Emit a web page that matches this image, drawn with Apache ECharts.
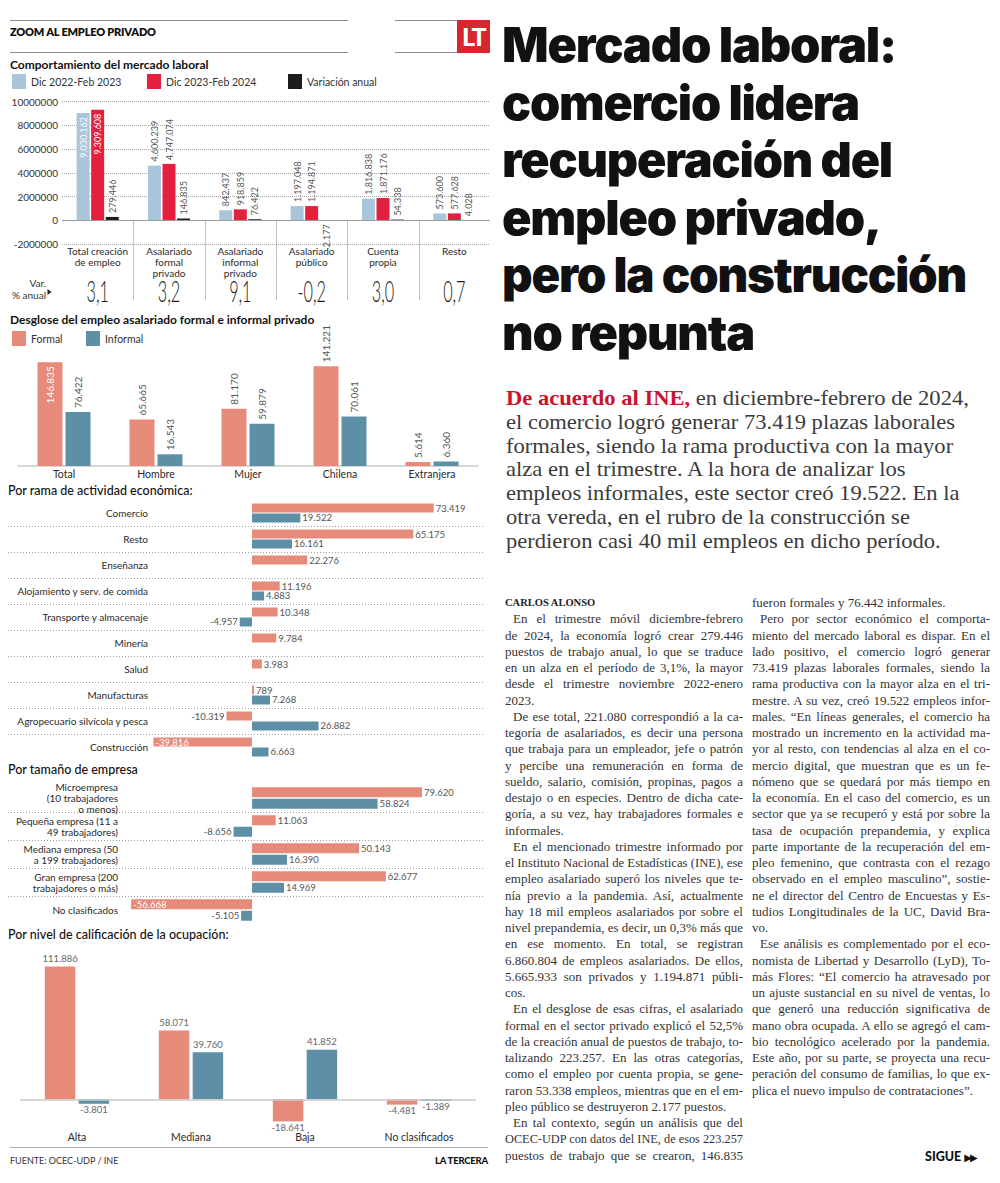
<!DOCTYPE html>
<html lang="es"><head><meta charset="utf-8">
<title>Mercado laboral: comercio lidera recuperación del empleo privado</title>
<script src="https://cdn.jsdelivr.net/npm/echarts/dist/echarts.min.js"></script>
<style>
html,body{margin:0;padding:0;background:#fff;}
body{width:1000px;height:1183px;position:relative;overflow:hidden;font-family:Lato,'Noto Sans',sans-serif;}
#left{position:absolute;left:0;top:0;width:500px;height:1183px;}
.hl{position:absolute;height:1px;background:#8c8c8c;}
#lt{position:absolute;left:457px;top:20px;width:33px;height:33px;background:#d7262f;color:#fff;font:900 25px/33px Lato,sans-serif;text-align:center;letter-spacing:-1.5px;}
#zoomt{position:absolute;left:10px;top:25px;font:800 11px/14px Lato,sans-serif;color:#111;letter-spacing:-0.2px;}
#fuente{position:absolute;left:10px;top:1155px;font:400 9px/12px Lato,sans-serif;color:#333;}
#latercera{position:absolute;left:430px;width:58px;text-align:right;top:1155px;font:900 9.5px/12px Lato,sans-serif;color:#111;letter-spacing:-0.2px;}
#headline{position:absolute;left:502px;top:16px;font-family:Inter,Lato,sans-serif;font-weight:900;font-size:48px;line-height:57.5px;color:#111;white-space:nowrap;letter-spacing:-1.2px;}
#headline span{display:inline-block;transform-origin:0 50%;}
#lead{position:absolute;left:506px;top:386px;font-family:'Liberation Serif',serif;font-size:22px;line-height:23.8px;color:#3b3b3b;white-space:nowrap;transform-origin:0 0;}
#lead b{color:#c8142f;}
.col{position:absolute;top:595px;width:238px;font-family:'Liberation Serif',serif;font-size:13px;line-height:16.25px;color:#333;}
.col .ln{white-space:nowrap;height:16.25px;}
.col .author{font-weight:bold;font-size:10.5px;color:#222;}
#sigue{position:absolute;left:925px;top:1150px;font:900 12.5px/14px Lato,sans-serif;color:#111;white-space:nowrap;}
#sigue span{font-family:'DejaVu Sans',sans-serif;font-size:10px;letter-spacing:-2px;}
</style>
</head>
<body>
<div id="left"></div>

<div class="hl" style="left:10px;top:20px;width:338px"></div>
<div class="hl" style="left:395px;top:20px;width:62px"></div>
<div class="hl" style="left:10px;top:52px;width:338px"></div>
<div class="hl" style="left:395px;top:52px;width:62px"></div>
<div id="lt">LT</div>
<div id="zoomt">ZOOM AL EMPLEO PRIVADO</div>
<div class="hl" style="left:10px;top:1147px;width:478px;background:#aaa"></div>
<div id="fuente">FUENTE: OCEC-UDP / INE</div>
<div id="latercera">LA TERCERA</div>

<div id="headline">
<div><span>Mercado laboral:</span></div>
<div><span>comercio lidera</span></div>
<div><span>recuperación del</span></div>
<div><span>empleo privado,</span></div>
<div><span>pero la construcción</span></div>
<div><span>no repunta</span></div>
</div>

<div id="lead">
<div><b>De acuerdo al INE,</b> en diciembre-febrero de 2024,</div>
<div><span id="leadref">el comercio logró generar 73.419 plazas laborales</span></div>
<div>formales, siendo la rama productiva con la mayor</div>
<div>alza en el trimestre. A la hora de analizar los</div>
<div>empleos informales, este sector creó 19.522. En la</div>
<div>otra vereda, en el rubro de la construcción se</div>
<div>perdieron casi 40 mil empleos en dicho período.</div>
</div>

<div class="col" id="col1" style="left:505px"></div>
<div class="col" id="col2" style="left:752px"></div>
<div id="sigue">SIGUE <span>▶▶</span></div>

<script>
// ---------------- DATA ----------------
const categoriesEmpleo = ['Total creación\nde empleo', 'Asalariado\nformal\nprivado', 'Asalariado\ninformal\nprivado', 'Asalariado\npúblico', 'Cuenta\npropia', 'Resto'];
const empleoDic2022Feb2023 = [9030162, 4600239, 842437, 1197048, 1816838, 573600];
const empleoDic2023Feb2024 = [9309608, 4747074, 918859, 1194871, 1871176, 577628];
const variacionAnual = [279446, 146835, 76422, -2177, 54338, 4028];
const variacionPctAnual = ['3,1', '3,2', '9,1', '-0,2', '3,0', '0,7'];

const categoriesDesglose = ['Total', 'Hombre', 'Mujer', 'Chilena', 'Extranjera'];
const desgloseFormal = [146835, 65665, 81170, 141221, 5614];
const desgloseInformal = [76422, 16543, 59879, 70061, 6360];

const categoriesRama = ['Comercio', 'Resto', 'Enseñanza', 'Alojamiento y serv. de comida', 'Transporte y almacenaje', 'Minería', 'Salud', 'Manufacturas', 'Agropecuario silvícola y pesca', 'Construcción'];
const ramaFormal = [73419, 65175, 22276, 11196, 10348, 9784, 3983, 789, -10319, -39816];
const ramaInformal = [19522, 16161, null, 4883, -4957, null, null, 7268, 26882, 6663];

const categoriesTamano = ['Microempresa\n(10 trabajadores\no menos)', 'Pequeña empresa (11 a\n49 trabajadores)', 'Mediana empresa (50\na 199 trabajadores)', 'Gran empresa (200\ntrabajadores o más)', 'No clasificados'];
const tamanoFormal = [79620, 11063, 50143, 62677, -56668];
const tamanoInformal = [58824, -8656, 16390, 14969, -5105];

const categoriesCalificacion = ['Alta', 'Mediana', 'Baja', 'No clasificados'];
const calificacionFormal = [111886, 58071, -18641, -4481];
const calificacionInformal = [-3801, 39760, 41852, -1389];

// ---------------- HELPERS ----------------
const fmt = v => (v < 0 ? '-' : '') + String(Math.abs(v)).replace(/\B(?=(\d{3})+(?!\d))/g, '.');
const COL = {prev: '#a9c5d9', curr: '#e3203d', vari: '#1c1c1c', formal: '#e68a79', informal: '#5d8fa7'};

function vItems(arr, insideIdx) {
  return arr.map((v, i) => {
    if (v == null) return null;
    if (i === insideIdx) return {value: v, label: {position: 'insideTop', align: 'right', color: '#fff'}};
    return {value: v, label: v >= 0 ? {position: 'top', align: 'left'} : {position: 'bottom', align: 'right'}};
  });
}
function hItems(arr) {
  const vals = arr.filter(v => v != null);
  const mn = Math.min(...vals);
  const insideIdx = mn < -20000 ? arr.indexOf(mn) : -1;
  return arr.map((v, i) => {
    if (v == null) return null;
    if (i === insideIdx) return {value: v, label: {position: 'insideLeft', color: '#fff', distance: 2}};
    return {value: v, label: {position: v >= 0 ? 'right' : 'left'}};
  });
}
function cItems(arr) {
  return arr.map(v => ({value: v, label: {position: v >= 0 ? 'top' : 'bottom', distance: v >= 0 ? 3 : 1}}));
}
const zeroLine = (color, width) => ({silent: true, symbol: 'none', animation: false, label: {show: false},
  lineStyle: {type: 'solid', color: color, width: width}, emphasis: {disabled: true}, data: [{yAxis: 0}]});

const vLabel = {show: true, rotate: 90, verticalAlign: 'middle', fontSize: 9, color: '#555', distance: 4, formatter: p => fmt(p.value)};
const vLabel2 = Object.assign({}, vLabel, {fontSize: 10});
const hLabel = {show: true, fontSize: 9.5, color: '#555', distance: 2, formatter: p => fmt(p.value)};
const cLabel = {show: true, fontSize: 9.5, color: '#666', distance: 3, formatter: p => fmt(p.value)};

// geometry of the grids
const G = [
  {left: 62, top: 101.5, width: 428, height: 142.5},
  {left: 18, top: 360, width: 460, height: 106},
  {left: 153, top: 500, width: 297, height: 260},
  {left: 124, top: 784, width: 341.5, height: 140},
  {left: 20, top: 957, width: 456, height: 166}
];

// decorations: separators and var % row
const graphic = [];
const g0 = G[0], n0 = categoriesEmpleo.length, bw0 = g0.width / n0;
const zeroY0 = g0.top + g0.height * (10000000 / 12000000);
for (let i = 1; i < n0; i++) {
  const x = Math.round(g0.left + i * bw0) + 0.5;
  graphic.push({type: 'line', silent: true, shape: {x1: x, y1: zeroY0, x2: x, y2: 300}, style: {stroke: '#c2c2c2', lineWidth: 1}});
}
variacionPctAnual.forEach((t, i) => {
  graphic.push({type: 'text', silent: true, x: g0.left + (i + 0.5) * bw0, y: 291, scaleX: 0.56,
    style: {text: t, fontFamily: 'Lato', fontWeight: 300, fontSize: 29, fill: '#1a1a1a', align: 'center', verticalAlign: 'middle', textAlign: 'center', textVerticalAlign: 'middle'}});
});
graphic.push({type: 'text', silent: true, x: 46, y: 277,
  style: {text: 'Var.\n% anual', fontFamily: 'Lato', fontSize: 10, lineHeight: 12, fill: '#333', align: 'right', textAlign: 'right', verticalAlign: 'top', textVerticalAlign: 'top'}});
graphic.push({type: 'polygon', silent: true, shape: {points: [[47.5, 289], [47.5, 295], [51.5, 292]]}, style: {fill: '#222'}});
function rowSeparators(g, n) {
  const h = g.height / n;
  for (let i = 1; i < n; i++) {
    const y = Math.round(g.top + i * h) + 0.5;
    graphic.push({type: 'line', silent: true, shape: {x1: 8, y1: y, x2: 485, y2: y}, style: {stroke: '#9d9d9d', lineWidth: 1, lineDash: [1, 2]}});
  }
}
rowSeparators(G[2], categoriesRama.length);
rowSeparators(G[3], categoriesTamano.length);

const catLabel = {interval: 0, fontSize: 10, color: '#2a2a2a'};

const option = {
  animation: false,
  textStyle: {fontFamily: 'Lato'},
  title: [
    {text: 'Comportamiento del mercado laboral', left: 10, top: 58},
    {text: 'Desglose del empleo asalariado formal e informal privado', left: 10, top: 313},
    {text: 'Por rama de actividad económica:', left: 8, top: 484, textStyle: {fontWeight: 500, fontSize: 12.5}},
    {text: 'Por tamaño de empresa', left: 8, top: 763, textStyle: {fontWeight: 500, fontSize: 12.5}},
    {text: 'Por nivel de calificación de la ocupación:', left: 8, top: 928, textStyle: {fontWeight: 500, fontSize: 12.5}}
  ].map(t => Object.assign({}, t, {padding: 0, textStyle: Object.assign({fontFamily: 'Lato', fontSize: 12, fontWeight: 'bold', color: '#111'}, t.textStyle || {})})),
  legend: [
    {data: ['Dic 2022-Feb 2023'], left: 12, top: 74},
    {data: ['Dic 2023-Feb 2024'], left: 147, top: 74},
    {data: ['Variación anual'], left: 288, top: 74},
    {data: ['Formal'], left: 12, top: 331},
    {data: ['Informal'], left: 86, top: 331}
  ].map(l => Object.assign({padding: 0, itemWidth: 14, itemHeight: 15, icon: 'rect', itemGap: 0, selectedMode: false,
    textStyle: {fontSize: 10.5, color: '#333', fontFamily: 'Lato'}}, l)),
  grid: G.map(g => Object.assign({containLabel: false, outerBoundsMode: 'none'}, g)),
  graphic: graphic,
  xAxis: [
    {gridIndex: 0, type: 'category', data: categoriesEmpleo, axisLine: {show: false, onZero: false}, axisTick: {show: false},
      axisLabel: Object.assign({}, catLabel, {margin: 1, lineHeight: 11.3})},
    {gridIndex: 1, type: 'category', data: categoriesDesglose, axisLine: {show: true, onZero: false, lineStyle: {color: '#c9c9c9', width: 1.5}}, axisTick: {show: false},
      axisLabel: Object.assign({}, catLabel, {margin: 2, fontSize: 10.5})},
    {gridIndex: 2, type: 'value', min: -40000, max: 80000, show: false},
    {gridIndex: 3, type: 'value', min: -60000, max: 100000, show: false},
    {gridIndex: 4, type: 'category', data: categoriesCalificacion, axisLine: {show: false, onZero: false}, axisTick: {show: false},
      axisLabel: Object.assign({}, catLabel, {margin: 8, fontSize: 10.5})}
  ],
  yAxis: [
    {gridIndex: 0, type: 'value', min: -2000000, max: 10000000, interval: 2000000, axisLine: {show: false}, axisTick: {show: false},
      axisLabel: {fontSize: 10, color: '#333', margin: 4, formatter: v => String(v)},
      splitLine: {show: true, lineStyle: {type: 'dotted', color: '#a8a8a8'}}},
    {gridIndex: 1, type: 'value', min: 0, max: 150000, show: false},
    {gridIndex: 2, type: 'category', data: categoriesRama, inverse: true, axisLine: {show: false}, axisTick: {show: false},
      axisLabel: Object.assign({}, catLabel, {margin: 5})},
    {gridIndex: 3, type: 'category', data: categoriesTamano, inverse: true, axisLine: {show: false}, axisTick: {show: false},
      axisLabel: Object.assign({}, catLabel, {margin: 6, lineHeight: 11})},
    {gridIndex: 4, type: 'value', min: -20000, max: 120000, show: false}
  ],
  series: [
    {name: 'Dic 2022-Feb 2023', type: 'bar', xAxisIndex: 0, yAxisIndex: 0, barWidth: 13, barGap: '12%', itemStyle: {color: COL.prev}, label: vLabel, data: vItems(empleoDic2022Feb2023, 0)},
    {name: 'Dic 2023-Feb 2024', type: 'bar', xAxisIndex: 0, yAxisIndex: 0, barWidth: 13, barGap: '12%', itemStyle: {color: COL.curr}, label: vLabel, data: vItems(empleoDic2023Feb2024, 0), markLine: zeroLine('#9a9a9a', 1)},
    {name: 'Variación anual', type: 'bar', xAxisIndex: 0, yAxisIndex: 0, barWidth: 13, barGap: '12%', itemStyle: {color: COL.vari}, label: vLabel, data: vItems(variacionAnual, -1)},

    {name: 'Formal', type: 'bar', xAxisIndex: 1, yAxisIndex: 1, barWidth: 25, barGap: '12%', itemStyle: {color: COL.formal}, label: vLabel2, data: vItems(desgloseFormal, 0)},
    {name: 'Informal', type: 'bar', xAxisIndex: 1, yAxisIndex: 1, barWidth: 25, barGap: '12%', itemStyle: {color: COL.informal}, label: vLabel2, data: vItems(desgloseInformal, -1)},

    {name: 'Formal', type: 'bar', xAxisIndex: 2, yAxisIndex: 2, barWidth: 9, barGap: '11%', itemStyle: {color: COL.formal}, label: hLabel, data: hItems(ramaFormal)},
    {name: 'Informal', type: 'bar', xAxisIndex: 2, yAxisIndex: 2, barWidth: 9, barGap: '11%', itemStyle: {color: COL.informal}, label: hLabel, data: hItems(ramaInformal)},

    {name: 'Formal', type: 'bar', xAxisIndex: 3, yAxisIndex: 3, barWidth: 10, barGap: '15%', itemStyle: {color: COL.formal}, label: hLabel, data: hItems(tamanoFormal)},
    {name: 'Informal', type: 'bar', xAxisIndex: 3, yAxisIndex: 3, barWidth: 10, barGap: '15%', itemStyle: {color: COL.informal}, label: hLabel, data: hItems(tamanoInformal)},

    {name: 'Formal', type: 'bar', xAxisIndex: 4, yAxisIndex: 4, barWidth: 30.5, barGap: '11%', itemStyle: {color: COL.formal}, label: cLabel, data: cItems(calificacionFormal), markLine: zeroLine('#c8c8c8', 1.5)},
    {name: 'Informal', type: 'bar', xAxisIndex: 4, yAxisIndex: 4, barWidth: 30.5, barGap: '11%', itemStyle: {color: COL.informal}, label: cLabel, data: cItems(calificacionInformal)}
  ]
};
const chart = echarts.init(document.getElementById('left'), null, {renderer: 'svg', width: 500, height: 1183});
chart.setOption(option);

// ---------------- ARTICLE TEXT ----------------
const articleCol1 = [
  {author: true, lines: ['CARLOS ALONSO']},
  {indent: true, last: true, lines: ['En el trimestre móvil diciembre-febrero', 'de 2024, la economía logró crear 279.446', 'puestos de trabajo anual, lo que se traduce', 'en un alza en el período de 3,1%, la mayor', 'desde el trimestre noviembre 2022-enero', '2023.']},
  {indent: true, last: true, lines: ['De ese total, 221.080 correspondió a la ca-', 'tegoría de asalariados, es decir una persona', 'que trabaja para un empleador, jefe o patrón', 'y percibe una remuneración en forma de', 'sueldo, salario, comisión, propinas, pagos a', 'destajo o en especies. Dentro de dicha cate-', 'goría, a su vez, hay trabajadores formales e', 'informales.']},
  {indent: true, last: true, lines: ['En el mencionado trimestre informado por', 'el Instituto Nacional de Estadísticas (INE), ese', 'empleo asalariado superó los niveles que te-', 'nía previo a la pandemia. Así, actualmente', 'hay 18 mil empleos asalariados por sobre el', 'nivel prepandemia, es decir, un 0,3% más que', 'en ese momento. En total, se registran', '6.860.804 de empleos asalariados. De ellos,', '5.665.933 son privados y 1.194.871 públi-', 'cos.']},
  {indent: true, last: true, lines: ['En el desglose de esas cifras, el asalariado', 'formal en el sector privado explicó el 52,5%', 'de la creación anual de puestos de trabajo, to-', 'talizando 223.257. En las otras categorías,', 'como el empleo por cuenta propia, se gene-', 'raron 53.338 empleos, mientras que en el em-', 'pleo público se destruyeron 2.177 puestos.']},
  {indent: true, last: false, lines: ['En tal contexto, según un análisis que del', 'OCEC-UDP con datos del INE, de esos 223.257', 'puestos de trabajo que se crearon, 146.835']}
];
const articleCol2 = [
  {indent: false, last: true, lines: ['fueron formales y 76.442 informales.']},
  {indent: true, last: true, lines: ['Pero por sector económico el comporta-', 'miento del mercado laboral es dispar. En el', 'lado positivo, el comercio logró generar', '73.419 plazas laborales formales, siendo la', 'rama productiva con la mayor alza en el tri-', 'mestre. A su vez, creó 19.522 empleos infor-', 'males. “En líneas generales, el comercio ha', 'mostrado un incremento en la actividad ma-', 'yor al resto, con tendencias al alza en el co-', 'mercio digital, que muestran que es un fe-', 'nómeno que se quedará por más tiempo en', 'la economía. En el caso del comercio, es un', 'sector que ya se recuperó y está por sobre la', 'tasa de ocupación prepandemia, y explica', 'parte importante de la recuperación del em-', 'pleo femenino, que contrasta con el rezago', 'observado en el empleo masculino”, sostie-', 'ne el director del Centro de Encuestas y Es-', 'tudios Longitudinales de la UC, David Bra-', 'vo.']},
  {indent: true, last: true, lines: ['Ese análisis es complementado por el eco-', 'nomista de Libertad y Desarrollo (LyD), To-', 'más Flores: “El comercio ha atravesado por', 'un ajuste sustancial en su nivel de ventas, lo', 'que generó una reducción significativa de', 'mano obra ocupada. A ello se agregó el cam-', 'bio tecnológico acelerado por la pandemia.', 'Este año, por su parte, se proyecta una recu-', 'peración del consumo de familias, lo que ex-', 'plica el nuevo impulso de contrataciones”.']}
];
function buildCol(el, paras, width) {
  paras.forEach(p => p.lines.forEach((t, i) => {
    const d = document.createElement('div');
    d.className = 'ln' + (p.author ? ' author' : '');
    const s = document.createElement('span');
    s.textContent = t;
    d.appendChild(s);
    el.appendChild(d);
    if (p.author) return;
    const ind = (p.indent && i === 0) ? 8 : 0;
    d.style.paddingLeft = ind + 'px';
    const avail = width - ind;
    const justify = !(p.last && i === p.lines.length - 1);
    const w = s.getBoundingClientRect().width;
    if (w > avail) {
      s.style.display = 'inline-block';
      s.style.transformOrigin = '0 50%';
      s.style.transform = 'scaleX(' + (avail / w) + ')';
    } else if (justify) {
      const n = (t.match(/ /g) || []).length;
      if (n) s.style.wordSpacing = ((avail - w) / n) + 'px';
    }
  }));
}
buildCol(document.getElementById('col1'), articleCol1, 238);
buildCol(document.getElementById('col2'), articleCol2, 238);

// fit headline lines and lead width to the page's measure
const headlineLineWidths = [394, 357, 390, 379, 464, 252];
(function () {
  document.querySelectorAll('#headline span').forEach((s, i) => {
    const w = s.getBoundingClientRect().width;
    s.style.transform = 'scaleX(' + (headlineLineWidths[i] / w) + ')';
  });
  const lw = document.getElementById('leadref').getBoundingClientRect().width;
  document.getElementById('lead').style.transform = 'scaleX(' + (449 / lw) + ')';
})();
</script>
</body></html>
